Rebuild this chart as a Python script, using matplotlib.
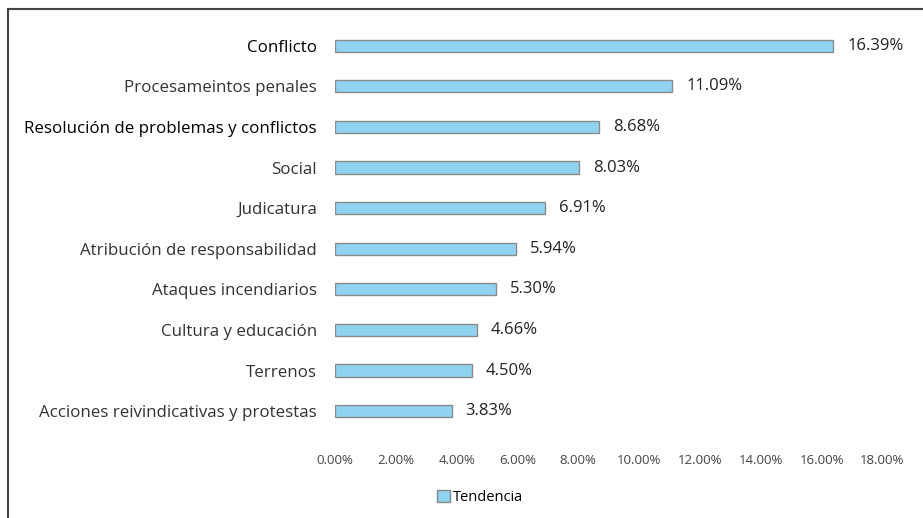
import matplotlib.pyplot as plt
from matplotlib.lines import Line2D
from matplotlib.ticker import FuncFormatter

plt.rcParams['font.family'] = ['Open Sans', 'DejaVu Sans']

# Data
categories = [
    "Conflicto",
    "Procesameintos penales",
    "Resolución de problemas y conflictos",
    "Social",
    "Judicatura",
    "Atribución de responsabilidad",
    "Ataques incendiarios",
    "Cultura y educación",
    "Terrenos",
    "Acciones reivindicativas y protestas",
]
values = [16.39, 11.09, 8.68, 8.03, 6.91, 5.94, 5.30, 4.66, 4.50, 3.83]
highlighted = ["Conflicto", "Resolución de problemas y conflictos"]
xticks = [0, 2, 4, 6, 8, 10, 12, 14, 16, 18]
series_name = "Tendencia"

fig = plt.figure(figsize=(9.23, 5.18), dpi=100)
ax = fig.add_axes([0.363, 0.167, 0.593, 0.784])

y = list(range(len(categories)))
bars = ax.barh(y, values, height=0.3, color='#8fd3f0', edgecolor='#8a8a8a',
               linewidth=1.0, label=series_name)

for yi, v in zip(y, values):
    ax.annotate(f"{v:.2f}%", (v, yi), xytext=(10, 0), textcoords='offset points',
                va='center', ha='left', fontsize=12, color='#222222')

ax.set_yticks(y)
ax.set_yticklabels(categories, fontsize=12.2)
for lbl in ax.get_yticklabels():
    if lbl.get_text() in highlighted:
        lbl.set_color('black')
        lbl.set_fontweight('medium')
    else:
        lbl.set_color('#333333')
ax.set_ylim(len(categories) - 0.5, -0.5)

ax.set_xlim(0, 18)
ax.set_xticks(xticks)
ax.xaxis.set_major_formatter(FuncFormatter(lambda v, p: f"{v:.2f}%"))
ax.tick_params(axis='x', length=0, pad=16, labelsize=9.5, labelcolor='#444444')
ax.tick_params(axis='y', length=0, pad=13)

for s in ax.spines.values():
    s.set_visible(False)

fig.legend(handles=[bars], loc='lower center', bbox_to_anchor=(0.52, 0.0),
           frameon=False, fontsize=10.5, handlelength=0.9, handleheight=0.9,
           handletextpad=0.2)

# outer frame lines (top and left)
fig.add_artist(Line2D([0.009, 1.0], [0.983, 0.983], color='#444444', lw=1.5,
                      transform=fig.transFigure))
fig.add_artist(Line2D([0.009, 0.009], [0.0, 0.983], color='#444444', lw=1.5,
                      transform=fig.transFigure))

fig.savefig("out.png", dpi=100)
